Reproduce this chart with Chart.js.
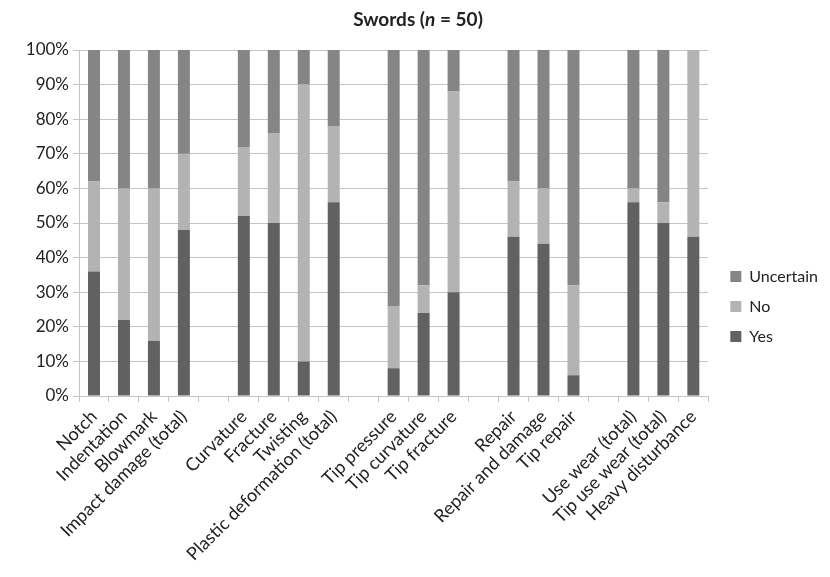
<!DOCTYPE html>
<html>
<head>
<meta charset="utf-8">
<script src="https://cdn.jsdelivr.net/npm/chart.js@4"></script>
<style>
  body { margin: 0; background: #fff; }
  #wrap { width: 830px; height: 577px; }
</style>
</head>
<body>
<div id="wrap"><canvas id="grafico"></canvas></div>
<script>
const categorias = [
  "Notch", "Indentation", "Blowmark", "Impact damage (total)", "",
  "Curvature", "Fracture", "Twisting", "Plastic deformation (total)", "",
  "Tip pressure", "Tip curvature", "Tip fracture", "",
  "Repair", "Repair and damage", "Tip repair", "",
  "Use wear (total)", "Tip use wear (total)", "Heavy disturbance"
];
const yes = [36, 22, 16, 48, null, 52, 50, 10, 56, null, 8, 24, 30, null, 46, 44, 6, null, 56, 50, 46];
const no = [26, 38, 44, 22, null, 20, 26, 80, 22, null, 18, 8, 58, null, 16, 16, 26, null, 4, 6, 54];
const uncertain = [38, 40, 40, 30, null, 28, 24, 10, 22, null, 74, 68, 12, null, 38, 40, 68, null, 40, 44, 0];

const fonte = "Lato";
const corTexto = "#222";
const corGrade = "#c4c4c4";

const tituloPlugin = {
  id: "titulo",
  afterLayout(chart) {
    // legenda um pouco mais alta e mais para a direita, como no original
    const leg = chart.legend;
    leg.top -= 7; leg.bottom -= 7;
    leg.left += 8; leg.right += 8;
  },
  afterDraw(chart) {
    const ctx = chart.ctx;
    const partes = [
      { t: "Swords (", f: "bold 19px " + fonte },
      { t: "n", f: "italic bold 19px " + fonte },
      { t: " = 50)", f: "bold 19px " + fonte },
    ];
    ctx.save();
    let total = 0;
    partes.forEach((p) => { ctx.font = p.f; total += ctx.measureText(p.t).width; });
    let x = 418 - total / 2;
    ctx.fillStyle = corTexto;
    ctx.textBaseline = "middle";
    partes.forEach((p) => {
      ctx.font = p.f;
      ctx.fillText(p.t, x, 20);
      x += ctx.measureText(p.t).width;
    });
    ctx.restore();
  },
};

const grafico = new Chart(document.getElementById("grafico"), {
  type: "bar",
  data: {
    labels: categorias,
    datasets: [
      { label: "Yes", data: yes, backgroundColor: "#616161" },
      { label: "No", data: no, backgroundColor: "#b3b3b3" },
      { label: "Uncertain", data: uncertain, backgroundColor: "#858585" },
    ],
  },
  options: {
    responsive: true,
    maintainAspectRatio: false,
    animation: false,
    barPercentage: 0.4,
    categoryPercentage: 1,
    layout: { padding: { top: 50, left: 0, right: 10, bottom: 0 } },
    plugins: {
      tooltip: { enabled: false },
      legend: {
        position: "right",
        reverse: true,
        labels: {
          boxWidth: 11,
          boxHeight: 11,
          padding: 14,
          color: corTexto,
          font: { family: fonte, size: 16 },
        },
      },
    },
    scales: {
      x: {
        stacked: true,
        grid: { offset: true, drawOnChartArea: false, color: corGrade, tickLength: 6 },
        border: { color: corGrade },
        ticks: {
          autoSkip: false,
          minRotation: 45,
          maxRotation: 45,
          color: corTexto,
          padding: 4,
          font: { family: fonte, size: 18 },
        },
        afterFit(scale) { scale.height = 181; },
      },
      y: {
        stacked: true,
        min: 0,
        max: 100,
        grid: { color: corGrade, tickLength: 6 },
        border: { color: corGrade },
        ticks: {
          stepSize: 10,
          color: corTexto,
          padding: 4,
          font: { family: fonte, size: 17 },
          callback: (v) => v + "%",
        },
        afterFit(scale) { scale.width = 79; },
      },
    },
  },
  plugins: [tituloPlugin],
});
</script>
</body>
</html>
